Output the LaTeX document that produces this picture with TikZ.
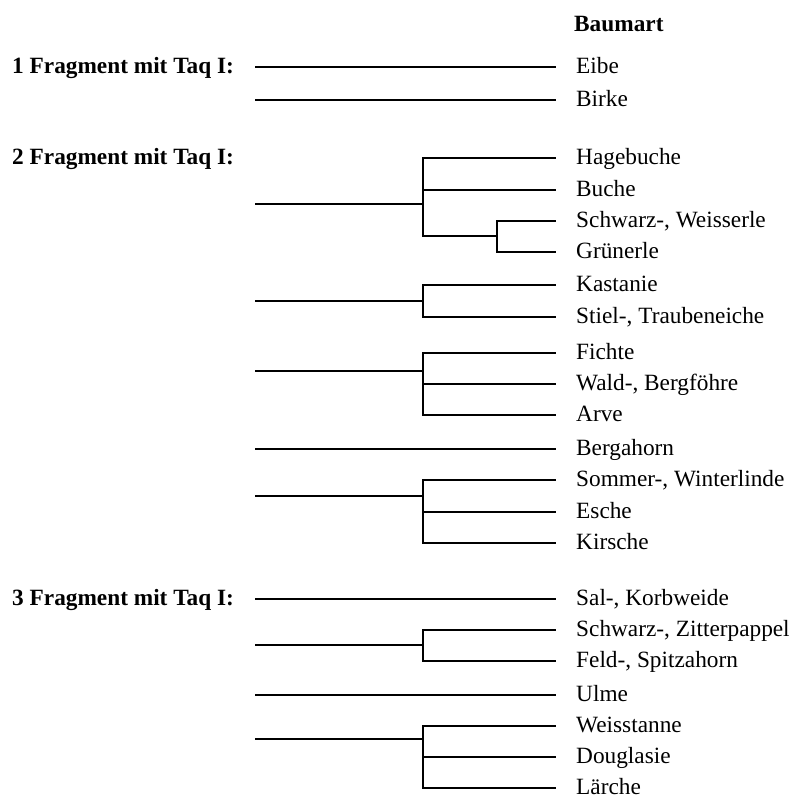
\documentclass[tikz,border=0pt]{standalone}
\usepackage{fontspec}
\setmainfont{Liberation Serif}
\begin{document}
\begin{tikzpicture}[x=1pt,y=-1pt,
  branch/.style={line width=1.8pt},
  tip/.style={branch, shorten >=20pt},
  leaf/.style={anchor=west, inner sep=0pt, text height=12.4pt, text depth=0pt,
    font=\fontsize{23.3}{28}\selectfont},
  head/.style={leaf, font=\fontsize{23.3}{28}\selectfont\bfseries}]
\useasboundingbox (0,0) rectangle (792,796);

% column heading and fragment classes
\node[head] (baumart) at (574,25) {Baumart};
\node[head] (frag1) at (12,67) {1 Fragment mit Taq I:};
\node[head] (frag2) at (12,158) {2 Fragment mit Taq I:};
\node[head] (frag3) at (12,599) {3 Fragment mit Taq I:};

% tree species
\node[leaf] (eibe)   at (576,67)  {Eibe};
\node[leaf] (birke)  at (576,100) {Birke};
\node[leaf] (hage)   at (576,158) {Hagebuche};
\node[leaf] (buche)  at (576,190) {Buche};
\node[leaf] (swerle) at (576,221) {Schwarz-, Weisserle};
\node[leaf] (gerle)  at (576,252) {Grünerle};
\node[leaf] (kast)   at (576,285) {Kastanie};
\node[leaf] (eiche)  at (576,317) {Stiel-, Traubeneiche};
\node[leaf] (fichte) at (576,353) {Fichte};
\node[leaf] (foehre) at (576,384) {Wald-, Bergföhre};
\node[leaf] (arve)   at (576,415) {Arve};
\node[leaf] (bahorn) at (576,449) {Bergahorn};
\node[leaf] (linde)  at (576,480) {Sommer-, Winterlinde};
\node[leaf] (esche)  at (576,512) {Esche};
\node[leaf] (kirsch) at (576,543) {Kirsche};
\node[leaf] (weide)  at (576,599) {Sal-, Korbweide};
\node[leaf] (pappel) at (576,630) {Schwarz-, Zitterpappel};
\node[leaf] (fahorn) at (576,661) {Feld-, Spitzahorn};
\node[leaf] (ulme)   at (576,695) {Ulme};
\node[leaf] (tanne)  at (576,726) {Weisstanne};
\node[leaf] (dougl)  at (576,757) {Douglasie};
\node[leaf] (laerch) at (576,788) {Lärche};

% roots of the branches
\coordinate (r1)  at (255,67);
\coordinate (r2)  at (255,100);
\coordinate (r3)  at (255,204);
\coordinate (r4)  at (255,301);
\coordinate (r5)  at (255,371);
\coordinate (r6)  at (255,449);
\coordinate (r7)  at (255,496);
\coordinate (r8)  at (255,599);
\coordinate (r9)  at (255,645);
\coordinate (r10) at (255,695);
\coordinate (r11) at (255,739);

% branching points
\coordinate (j3)  at (423,204);
\coordinate (k3)  at (497,236);
\coordinate (j4)  at (423,301);
\coordinate (j5)  at (423,371);
\coordinate (j7)  at (423,496);
\coordinate (j9)  at (423,645);
\coordinate (j11) at (423,739);

% one fragment
\draw[tip] (r1) -- (eibe.west);
\draw[tip] (r2) -- (birke.west);

% two fragments
\draw[branch] (r3) -- (j3);
\draw[tip] (j3) |- (hage.west);
\draw[tip] (j3) |- (buche.west);
\draw[branch] (j3) |- (k3);
\draw[tip] (k3) |- (swerle.west);
\draw[tip] (k3) |- (gerle.west);

\draw[branch] (r4) -- (j4);
\draw[tip] (j4) |- (kast.west);
\draw[tip] (j4) |- (eiche.west);

\draw[branch] (r5) -- (j5);
\draw[tip] (j5) |- (fichte.west);
\draw[tip] (j5) |- (foehre.west);
\draw[tip] (j5) |- (arve.west);

\draw[tip] (r6) -- (bahorn.west);

\draw[branch] (r7) -- (j7);
\draw[tip] (j7) |- (linde.west);
\draw[tip] (j7) |- (esche.west);
\draw[tip] (j7) |- (kirsch.west);

% three fragments
\draw[tip] (r8) -- (weide.west);

\draw[branch] (r9) -- (j9);
\draw[tip] (j9) |- (pappel.west);
\draw[tip] (j9) |- (fahorn.west);

\draw[tip] (r10) -- (ulme.west);

\draw[branch] (r11) -- (j11);
\draw[tip] (j11) |- (tanne.west);
\draw[tip] (j11) |- (dougl.west);
\draw[tip] (j11) |- (laerch.west);
\end{tikzpicture}
\end{document}
